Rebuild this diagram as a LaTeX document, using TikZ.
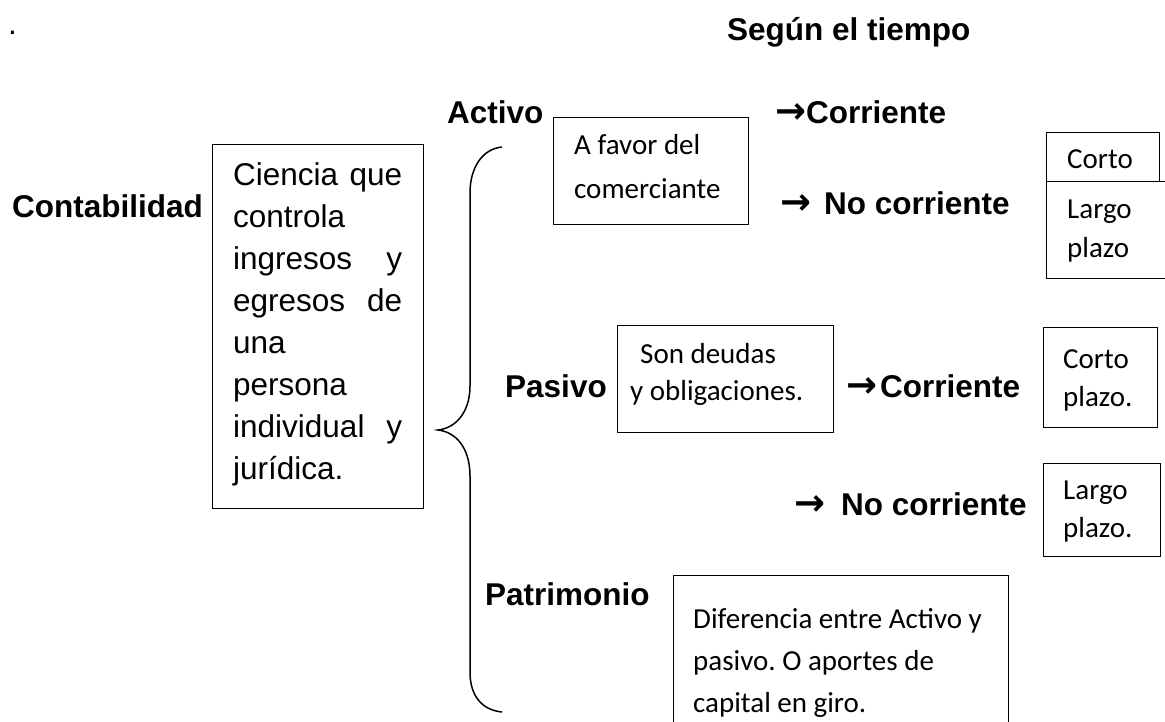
\documentclass[tikz,border=0pt]{standalone}
\usepackage{fontspec}
\newfontfamily\arialf{Liberation Sans}
\newfontfamily\calf{Carlito}
\newfontfamily\dejavu{DejaVu Sans}
\newcommand{\rarr}{{\dejavu\fontsize{37}{38}\selectfont →}}
\frenchspacing
\begin{document}
\begin{tikzpicture}[x=1pt,y=-1pt,
  lbl/.style={anchor=base west, inner sep=0pt, font=\arialf\bfseries\fontsize{31.5}{38}\selectfont},
  boxx/.style={draw, line width=1.2pt, anchor=north west, inner sep=0pt},
  txt/.style={anchor=north west, inner sep=0pt, align=flush left},
  cal/.style={font=\calf\fontsize{29}{#1}\selectfont},
  brace/.style={draw, line width=1.5pt}]
\useasboundingbox (0,0) rectangle (1165,721);
\clip (0,0) rectangle (1165,721);

% top
\node[anchor=base west, inner sep=0pt, font=\arialf\fontsize{31.5}{38}\selectfont] (dot) at (8,34) {.};
\node[lbl] (tiempo) at (727,40) {Según el tiempo};

% Contabilidad
\node[lbl] (conta) at (12,217) {Contabilidad};
\node[boxx, minimum width=211pt, minimum height=364pt] (defbox) at (212,144) {};
\node[txt, text width=169pt, font=\arialf\fontsize{31.5}{42.1}\selectfont] (deftext) at (233,160)
  {\rule{0pt}{25pt}Ciencia\hfill que\\controla\\ingresos\hfill y\\egresos\hfill de\\una\\persona\\individual\hfill y\\jurídica.};

% brace
\coordinate (btop) at (502,147);
\coordinate (btip) at (438,430);
\coordinate (bbot) at (502,712);
\path[brace] (btop) .. controls (482,149) and (470,168) .. (470,193) -- (470,386)
  .. controls (470,412) and (456,428) .. (btip)
  .. controls (456,432) and (470,448) .. (470,476) -- (470,672)
  .. controls (470,696) and (482,710) .. (bbot);

% Activo
\node[lbl] (activo) at (447,123) {Activo};
\node[boxx, minimum width=195pt, minimum height=107pt] (favbox) at (553,117) {};
\node[txt, text width=170pt, cal=44] (favtext) at (574,130) {\rule{0pt}{24pt}A favor del\\comerciante};
\node[lbl] (acorr) at (775,123) {\rarr\hspace{0pt}Corriente};
\node[lbl] (anocorr) at (780,214) {\rarr\hspace{13pt}No corriente};
\node[boxx, minimum width=113pt, minimum height=49pt] (acortobox) at (1046,132) {};
\node[anchor=base west, inner sep=0pt, cal=35] (acorto) at (1067,168) {Corto};
\node[boxx, minimum width=150pt, minimum height=97pt] (alargobox) at (1046,181) {};
\node[txt, text width=90pt, cal=39] (alargo) at (1067,194) {\rule{0pt}{24pt}Largo\\plazo};

% Pasivo
\node[lbl] (pasivo) at (505,397) {Pasivo};
\node[boxx, minimum width=216pt, minimum height=107pt] (deubox) at (617,325) {};
\node[txt, text width=200pt, cal=37] (deutext) at (630,339) {\rule{0pt}{24pt}\hspace*{10pt}Son deudas\\y obligaciones.};
\node[lbl] (pcorr) at (846,397) {\rarr\hspace{3pt}Corriente};
\node[boxx, minimum width=114pt, minimum height=100pt] (pcortobox) at (1043,327) {};
\node[txt, text width=90pt, cal=38] (pcorto) at (1063,344) {\rule{0pt}{24pt}Corto\\plazo.};
\node[lbl] (pnocorr) at (794,515) {\rarr\hspace{16pt}No corriente};
\node[boxx, minimum width=117pt, minimum height=93pt] (plargobox) at (1043,463) {};
\node[txt, text width=90pt, cal=38] (plargo) at (1063,475) {\rule{0pt}{24pt}Largo\\plazo.};

% Patrimonio
\node[lbl] (patri) at (485,605) {Patrimonio};
\node[boxx, minimum width=335pt, minimum height=170pt] (patbox) at (673,575) {};
\node[txt, text width=310pt, cal=42] (pattext) at (693,604) {\rule{0pt}{24pt}Diferencia entre Activo y\\pasivo. O aportes de\\capital en giro.};
\end{tikzpicture}
\end{document}
